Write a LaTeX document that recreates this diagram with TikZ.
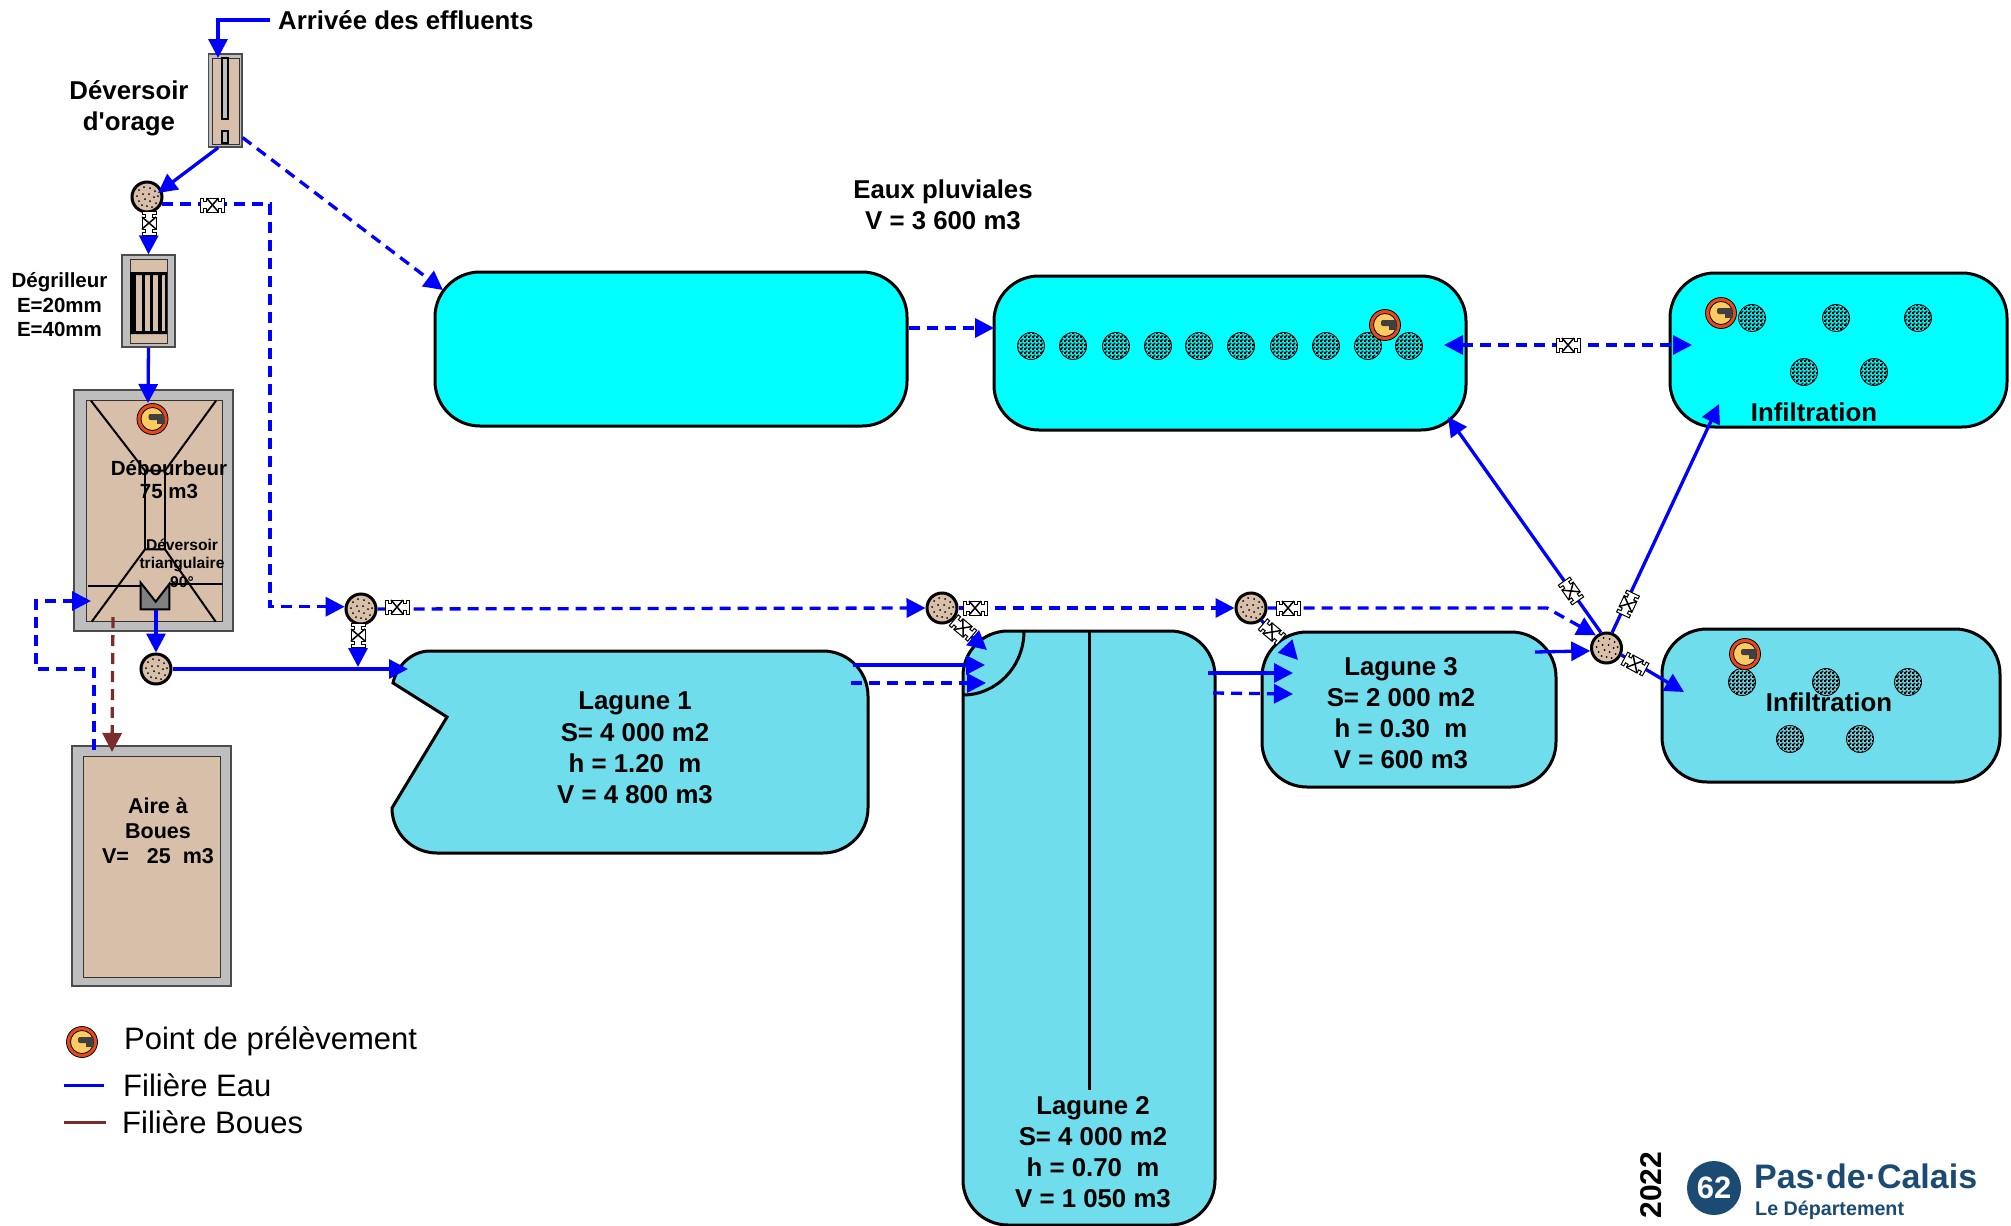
\documentclass[tikz,border=0pt]{standalone}
\usepackage{xcolor}
\usepackage{fontspec}
\setmainfont{Liberation Sans}[Ligatures=TeXOff]
\usepackage{tikz}
\usetikzlibrary{arrows.meta,patterns}
\definecolor{beton}{HTML}{BEBEBE}
\definecolor{sable}{HTML}{D8BFA9}
\definecolor{bleuvif}{HTML}{00FFFF}
\definecolor{lagon}{HTML}{6FDDEB}
\definecolor{boues}{HTML}{7B2D2B}
\definecolor{ocre}{HTML}{FBCB62}
\definecolor{rouille}{HTML}{E8491A}
\definecolor{dept}{HTML}{1B4A73}
\pgfdeclarepatternformonly{damier}{\pgfpointorigin}{\pgfqpoint{4pt}{4pt}}{\pgfqpoint{4pt}{4pt}}{
	\pgfpathrectangle{\pgfpointorigin}{\pgfqpoint{2.5pt}{2.5pt}}
	\pgfpathrectangle{\pgfqpoint{2pt}{2pt}}{\pgfqpoint{2pt}{2pt}}
	\pgfusepath{fill}}

\begin{document}
\begin{tikzpicture}[x=1pt, y=-1pt, every node/.style={inner sep=0pt, align=center},
	eau/.style={draw=blue, line width=3.3pt, -{Triangle[length=19pt,width=19pt]}},
	pluie/.style={eau, dash pattern=on 11pt off 7pt},
	boue/.style={eau, draw=boues, dash pattern=on 11pt off 7pt},
	mur/.style={rectangle, draw=black!70, line width=1.2pt, fill=beton},
	interne/.style={draw=black!80, line width=1pt, fill=sable},
	trait/.style={draw=black, line width=2pt},
	bassin/.style={rectangle, draw=black, line width=3pt, rounded corners=45pt, fill=lagon},
	infil/.style={circle, draw=black, line width=0.8pt, minimum size=27pt, pattern=damier},
	regard/.style={circle, draw=black, line width=3pt, fill=sable, minimum size=30pt,
		path picture={\foreach \a/\b in {-8/-7,-3/-10,3/-9,8/-6,-10/-1,-4/-3,2/-3,7/0,11/-1,-8/4,-2/2,3/4,9/6,-5/8,0/9,5/10}
			\fill[black] (path picture bounding box.center) ++(\a,\b) circle (1pt);}},
	prelev/.style={circle, draw=black, line width=0.8pt, fill=rouille, minimum size=31pt,
		path picture={
			\draw[fill=ocre, line width=0.8pt] (path picture bounding box.center) circle (11.5pt);
			\fill[black!75, rounded corners=2pt] ([shift={(-4,-5)}]path picture bounding box.center) rectangle ([shift={(12,1)}]path picture bounding box.center);
			\fill[black!75] ([shift={(4,1)}]path picture bounding box.center) rectangle ([shift={(12,5)}]path picture bounding box.center);}},
	gros/.style={font=\bfseries\fontsize{25.8}{31.2}\selectfont},
	moyen/.style={font=\bfseries\fontsize{20.5}{24.5}\selectfont},
	petit/.style={font=\bfseries\fontsize{15.6}{18.5}\selectfont},
	legende/.style={font=\fontsize{31}{36}\selectfont, anchor=west},
	valve/.pic={
		\draw[fill=white, line width=1pt] (-12,-7) -- (-9,-7) -- (-9,-3.5) -- (-6,-3.5) -- (-6,-7) -- (6,-7) -- (6,-3.5) -- (9,-3.5) -- (9,-7) -- (12,-7)
			-- (12,7) -- (9,7) -- (9,3.5) -- (6,3.5) -- (6,7) -- (-6,7) -- (-6,3.5) -- (-9,3.5) -- (-9,7) -- (-12,7) -- cycle;
		\draw[line width=1.5pt] (-6,-7) -- (6,7) (-6,7) -- (6,-7);
	}]

\useasboundingbox (0,0) rectangle (2011,1226);

% ouvrages de tete
\node [mur, minimum width=33.5pt, minimum height=93pt] (dev) at (225.25,100.5) {};
\draw [interne] (212,58) rectangle (239,144);
\draw [interne, fill=beton, draw=black, line width=1.5pt] (222,58) rectangle (228,119);
\draw [interne, fill=beton, draw=black, line width=1.5pt] (222,131) rectangle (228,143);

\node [mur, minimum width=53pt, minimum height=92pt] (deg) at (148.5,301) {};
\draw [interne] (130,259) rectangle (167,343);
\fill (130,272) rectangle (167,275) (130,331) rectangle (167,334);
\foreach \xa/\xb in {130/136,142/145,150/153,158/162,165/167}
	\fill (\xa,273) rectangle (\xb,333);

\node [mur, minimum width=159pt, minimum height=241pt] (deb) at (153.5,510.5) {};
\draw [interne] (86.5,400.5) rectangle (222.5,621.5);
\draw [trait] (91,400.7) -- (145,470.7) -- (165,470.7) -- (216,400.7);
\draw [trait] (145,470.7) -- (145,549.3) (165,470.7) -- (165,549.3);
\draw [trait] (91.7,621.7) -- (145,549.3) -- (165,549.3) -- (215.7,621.7);
\draw [trait] (88.3,586) -- (140.7,586) (170,584) -- (223,584);
\draw [trait, fill=gray] (140.7,582.7) -- (140.7,609.3) -- (169.3,609.3) -- (169.3,584) -- (155.7,601.7) -- cycle;

\node [mur, minimum width=159pt, minimum height=240pt] (aire) at (151.5,866) {};
\draw [interne] (83,756) rectangle (220,977);

% bassins
\node [bassin, fill=bleuvif, minimum width=472pt, minimum height=154pt] (bas1) at (671,349) {};
\node [bassin, fill=bleuvif, minimum width=472pt, minimum height=154pt] (bas2) at (1230,353) {};
\node [bassin, fill=bleuvif, minimum width=337pt, minimum height=154pt] (inf1) at (1838.5,350) {};
\node [bassin, minimum width=338pt, minimum height=153pt] (inf2) at (1831,705.5) {};
\node [bassin, minimum width=252pt, minimum height=594pt] (lag2) at (1089,928) {};
\node [bassin, minimum width=294pt, minimum height=155pt] (lag3) at (1409,709.5) {};
\draw [bassin] (430,651) -- (868,651) -- (868,853) -- (392,853) [sharp corners] -- (392,808) -- (447,717) -- (393,683)
	.. controls (396,668) and (410,651) .. (430,651) -- cycle;
\coordinate (fin) at (1089,1090);
\draw [bassin, fill=none, rounded corners=0pt] (1024,631) .. controls (1024,667) and (996,695) .. (963,695);
\draw [line width=3pt] (lag2.north) -- (fin);

\foreach \x [count=\i] in {1031,1073,1116,1158,1199,1241,1284,1326,1368,1409}
	\node [infil] (fp\i) at (\x,346) {};
\foreach \x/\y [count=\i] in {1752/318,1836/318,1918/318,1804/372,1874/372}
	\node [infil] (fa\i) at (\x,\y) {};
\foreach \x/\y [count=\i] in {1742/682,1826/682,1908/682,1790/739,1860/739}
	\node [infil] (fb\i) at (\x,\y) {};

\node [regard] (reg1) at (147,197) {};
\node [regard] (reg2) at (156,669) {};
\node [regard] (reg3) at (361,609) {};
\node [regard] (reg4) at (942,608) {};
\node [regard] (reg5) at (1251,608) {};
\node [regard] (reg6) at (1606.5,648) {};

\node [prelev] (pt1) at (152.5,419) {};
\node [prelev] (pt2) at (1385,325) {};
\node [prelev] (pt3) at (1721,313) {};
\node [prelev] (pt4) at (1745,654) {};
\node [prelev] (pt5) at (82,1042) {};

% textes
\node [gros, anchor=west] (arrivee) at (278,20) {Arrivée des effluents};
\node [gros] (tdev) at (129,108) {Déversoir\\d'orage};
\node [moyen] (tdeg) at (59.5,305) {Dégrilleur\\E=20mm\\E=40mm};
\node [moyen, font=\bfseries\fontsize{20.5}{23}\selectfont] (tdeb) at (169,480) {Débourbeur\\75 m3};
\node [petit] (ttri) at (182,563) {Déversoir\\triangulaire\\90°};
\node [moyen, font=\bfseries\fontsize{21.5}{24.8}\selectfont] (taire) at (158,831) {Aire à\\Boues\\V=\ \ \ 25\ \ m3};
\node [gros] (tpluv) at (943,205) {Eaux pluviales\\V = 3 600 m3};
\node [gros] (tinf1) at (1814,412) {Infiltration};
\node [gros] (tinf2) at (1829,702) {Infiltration};
\node [gros] (tlag1) at (635,748) {Lagune 1\\S= 4 000 m2\\h = 1.20\ \ m\\V = 4 800 m3};
\node [gros] (tlag2) at (1093,1152) {Lagune 2\\S= 4 000 m2\\h = 0.70\ \ m\\V = 1 050 m3};
\node [gros] (tlag3) at (1401,713) {Lagune 3\\S= 2 000 m2\\h = 0.30\ \ m\\V = 600 m3};

% filiere eau
\coordinate (a1) at (218,58);
\coordinate (a2) at (158,193);
\coordinate (a3) at (443,290);
\coordinate (a4) at (148,403);
\coordinate (a5) at (408,669);
\coordinate (a6) at (358,667);
\coordinate (a7) at (987,650);
\coordinate (a8) at (1298,660);
\coordinate (a9) at (1448,417);
\coordinate (a10) at (1719,404);
\coordinate (a11) at (1684,692);
\coordinate (a12) at (994,328);
\coordinate (a13) at (1444,345);
\coordinate (a14) at (1692,345);
\coordinate (a15) at (985,665);
\coordinate (a16) at (986,683);
\coordinate (a17) at (1293,673);
\coordinate (a18) at (1293,694);
\coordinate (a19) at (91,601);
\coordinate (a20) at (112,752);
\coordinate (s1) at (853,665);
\coordinate (s2) at (851,683);
\coordinate (s3) at (1208,673);
\coordinate (s4) at (1213,693);
\coordinate (s5) at (1535,652);
\coordinate (s6) at (94,750);
\coordinate (s7) at (113,617);
\coordinate (s8) at (156,610);
\coordinate (c1) at (270,400);
\coordinate (c2) at (36,669);
\coordinate (c3) at (1547,608);

\draw [eau] ([xshift=-8pt]arrivee.west) -| (a1);
\draw [eau] ([xshift=-7pt]dev.south) -- (a2);
\draw [pluie] ([yshift=10pt]dev.south east) -- (a3);
\draw [pluie] (reg1.-25) -| (c1) |- (reg3.172);
\draw [eau] ([xshift=2pt]reg1.south) -- (deg.north);
\draw [eau] (deg.south) -- (a4);
\draw [eau] (s8) -- (reg2.north);
\draw [eau] (reg2.east) -- (a5);
\draw [pluie] ([xshift=-3pt]reg3.south) -- (a6);
\draw [pluie] (reg3.east) -- (reg4.west);
\draw [pluie] (reg4.-50) -- (a7);
\draw [pluie] (reg4.east) -- (reg5.west);
\draw [pluie] (reg5.-50) -- (a8);
\draw [pluie] (reg5.east) -- (c3) -- (reg6.130);
\draw [eau] (s5) -- (reg6.190);
\draw [eau] (reg6.110) -- (a9);
\draw [eau] (reg6.70) -- (a10);
\draw [eau] (reg6.-25) -- (a11);
\draw [pluie] (bas1.east |- a12) -- (a12);
\draw [pluie, {Triangle[length=19pt,width=19pt]}-{Triangle[length=19pt,width=19pt]}] (a13) -- (a14);
\draw [eau] (s1) -- (a15);
\draw [pluie] (s2) -- (a16);
\draw [eau] (s3) -- (a17);
\draw [pluie] (s4) -- (a18);
\draw [pluie] (s6) |- (c2) |- (a19);
\draw [boue] (s7) -- (a20);

\pic at (212.5,205) {valve};
\pic [rotate=90] at (149,223) {valve};
\pic at (397,607) {valve};
\pic [rotate=90] at (358,635) {valve};
\pic at (975,608) {valve};
\pic [rotate=-40] at (963,628) {valve};
\pic at (1288,608) {valve};
\pic [rotate=-40] at (1272,632) {valve};
\pic at (1568,345) {valve};
\pic [rotate=-55] at (1571,591) {valve};
\pic [rotate=65] at (1628,604) {valve};
\pic [rotate=-28] at (1635,664) {valve};

% legende
\coordinate (l1) at (64,1085);
\coordinate (l2) at (104,1085);
\coordinate (l3) at (64,1122);
\coordinate (l4) at (106,1122);
\draw [draw=blue, line width=3pt] (l1) -- (l2);
\draw [draw=boues, line width=3pt] (l3) -- (l4);
\node [legende] (lg1) at (124,1041) {Point de prélèvement};
\node [legende] (lg2) at (123,1085) {Filière Eau};
\node [legende] (lg3) at (122,1122) {Filière Boues};

% logo
\node [rotate=90, font=\bfseries\fontsize{30}{30}\selectfont] (annee) at (1651,1185) {2022};
\node [circle, fill=dept, minimum size=54pt, text=white, font=\bfseries\fontsize{31}{31}\selectfont] (logo) at (1714,1188) {62};
\node [anchor=west, text=dept, font=\bfseries\fontsize{34}{34}\selectfont] (dep1) at (1754,1176) {Pas·de·Calais};
\node [anchor=west, text=dept, font=\bfseries\fontsize{19.7}{20}\selectfont] (dep2) at (1755,1210) {Le Département};

\end{tikzpicture}
\end{document}
